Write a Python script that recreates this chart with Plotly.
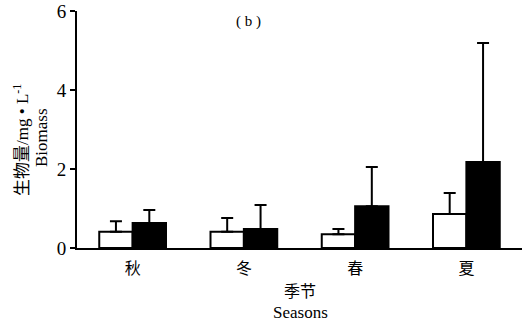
import plotly.graph_objects as go

seasons = ["秋", "冬", "春", "夏"]
white_vals = [0.41, 0.41, 0.35, 0.86]
white_err = [0.27, 0.35, 0.13, 0.53]
black_vals = [0.63, 0.48, 1.06, 2.18]
black_err = [0.33, 0.61, 0.99, 3.01]
y_ticks = [0, 2, 4, 6]

W, H = 532, 324
L, R, T, B = 77, 10, 11, 76

fig = go.Figure()
fig.add_trace(go.Bar(
    x=seasons, y=white_vals, name="white",
    marker=dict(color="white", line=dict(color="black", width=2)),
    error_y=dict(type="data", array=white_err, symmetric=False, arrayminus=[0]*4,
                 color="black", thickness=2, width=6),
))
fig.add_trace(go.Bar(
    x=seasons, y=black_vals, name="black",
    marker=dict(color="black", line=dict(color="black", width=2)),
    error_y=dict(type="data", array=black_err, symmetric=False, arrayminus=[0]*4,
                 color="black", thickness=2, width=6),
))

fig.update_layout(
    width=W, height=H,
    margin=dict(l=L, r=R, t=T, b=B),
    paper_bgcolor="white", plot_bgcolor="white",
    barmode="group", bargap=0.4, bargroupgap=0,
    showlegend=False,
    font=dict(family="Liberation Serif", color="black"),
)
fig.update_xaxes(
    range=[-0.5, 3.5], showline=True, linecolor="black", linewidth=2,
    ticks="", tickfont=dict(family="Noto Sans CJK SC", size=16), automargin=False,
    ticklabelstandoff=5,
)
fig.update_yaxes(
    range=[0, 6], tickvals=y_ticks, showline=True, linecolor="black", linewidth=2,
    ticks="outside", ticklen=5, tickwidth=2, tickcolor="black",
    showgrid=False, zeroline=False, automargin=False,
    tickfont=dict(size=19),
)

pw, ph = W - L - R, H - T - B


def px(x):
    return (x - L) / pw


def py(y):
    return (H - B - y) / ph


common = dict(xref="paper", yref="paper", xanchor="center", yanchor="middle", showarrow=False)
fig.add_annotation(x=px(248), y=py(22), text="( b )",
                   font=dict(size=15, family="Liberation Serif"), **common)
fig.add_annotation(x=px(20), y=py(140),
                   text="<span style='font-family:Noto Sans CJK SC'>生物量</span>/mg • L<sup>-1</sup>",
                   textangle=-90, font=dict(size=17), **common)
fig.add_annotation(x=px(41), y=py(138), text="Biomass", textangle=-90,
                   font=dict(size=17), **common)
fig.add_annotation(x=px(300), y=py(290), text="季节",
                   font=dict(size=16, family="Noto Sans CJK SC"), **common)
fig.add_annotation(x=px(300), y=py(312), text="Seasons",
                   font=dict(size=17, family="Liberation Serif"), **common)

fig.write_html("out.html", config={"displayModeBar": False},
               post_script="document.body.style.margin='0';")
